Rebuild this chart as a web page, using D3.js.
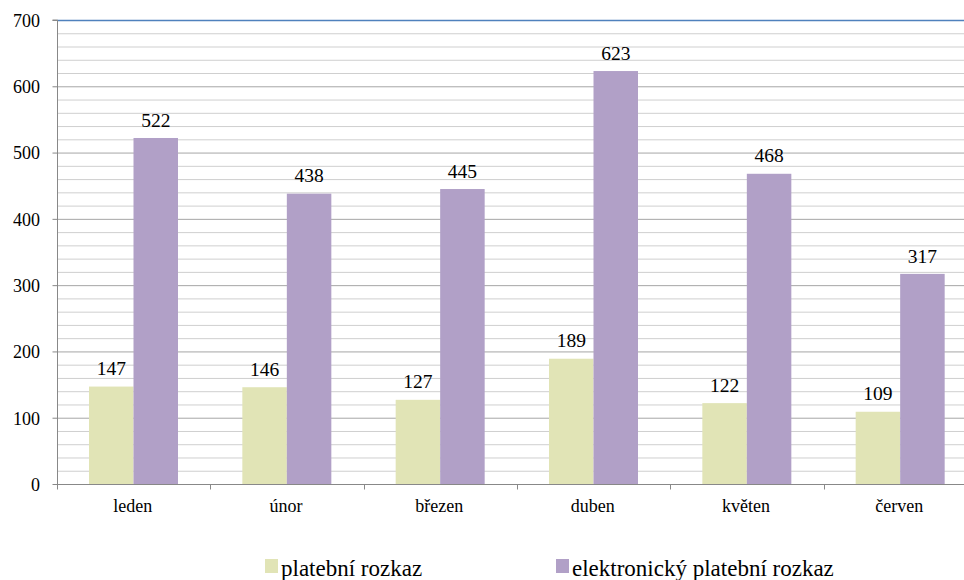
<!DOCTYPE html>
<html><head><meta charset="utf-8">
<script src="https://cdn.jsdelivr.net/npm/d3@7"></script>
<style>
body{margin:0;background:#fff}
#wrap{position:relative;width:964px;height:580px;overflow:hidden}
#c{position:absolute;left:0;top:0;display:block}
.lbl{position:absolute;white-space:nowrap;line-height:1;color:#000}
</style>
</head><body><div id="wrap"><svg id="c" width="964" height="580"></svg></div>
<script>
const categories = ["leden","únor","březen","duben","květen","červen"];
const seriesNames = ["platební rozkaz","elektronický platební rozkaz"];
const platebni = [147,146,127,189,122,109];
const elektronicky = [522,438,445,623,468,317];
const yTicks = [0,100,200,300,400,500,600,700];
const colors = ["#e1e4b6","#b1a0c7"];

const wrap = d3.select("#wrap");
const svg = d3.select("#c");
const m = {l:57, t:20, b:96};
const W = 964, H = 580;
const x = d3.scaleBand().domain(categories).range([m.l, 977]);
const y = d3.scaleLinear().domain([0,700]).range([H-m.b, m.t]);

// HTML text label helper (baseline positioned)
function label(text, px, baseline, size, anchor){
  const d = wrap.append("div").attr("class","lbl").text(text)
    .style("top", (baseline - 0.8375*size)+"px");
  const s = d.node().style;
  s.setProperty("font", size+"px 'Liberation Serif'", "important");
  s.setProperty("font-family", "'Liberation Serif', 'Times New Roman', serif", "important");
  s.setProperty("line-height", "1", "important");
  if(anchor==="middle") d.style("left", px+"px").style("transform","translateX(-50%)");
  else if(anchor==="end") d.style("right", (W-px)+"px");
  else d.style("left", px+"px");
  return d;
}

// gridlines
const minor = d3.range(0,701,20);
svg.append("g").selectAll("line").data(minor).join("line")
  .attr("x1", m.l).attr("x2", W).attr("y1", d=>y(d)+0.5).attr("y2", d=>y(d)+0.5)
  .attr("stroke", d=> d===700 ? "#4f81bd" : (d%100===0 ? "#a6a6a6" : "#cfcfcf"))
  .attr("stroke-width", d=> d===700 ? 1.5 : 1);

// bars
const series = [platebni, elektronicky];
const bw = 44.5, off = 32;
series.forEach((vals, si) => {
  svg.append("g").selectAll("rect").data(vals).join("rect")
    .attr("x", (d,i)=> x(categories[i]) + off + si*bw)
    .attr("width", bw)
    .attr("y", d=>y(d))
    .attr("height", d=>y(0)-y(d))
    .attr("fill", colors[si]);
  vals.forEach((v,i)=>{
    label(String(v), x(categories[i]) + off + si*bw + bw/2, y(v)-11, 19.5, "middle");
  });
});

// axes
const yAxis = d3.axisLeft(y).tickValues(yTicks).tickSize(5).tickFormat("");
const gy = svg.append("g").attr("transform",`translate(${m.l+0.5},0)`).call(yAxis);
gy.select(".domain").attr("stroke","#888").attr("d",`M-5,${y(700)}H0V${y(0)}`);
gy.selectAll(".tick line").attr("stroke","#888");
yTicks.forEach(t => label(String(t), 40, y(t)+7, 18, "end"));

const gx = svg.append("g").attr("transform",`translate(0,${y(0)+0.5})`);
gx.append("line").attr("x1",m.l).attr("x2",W).attr("stroke","#888");
gx.selectAll("line.t").data(categories.map(c=>x(c))).join("line").attr("class","t")
  .attr("x1",d=>Math.round(d)+0.5).attr("x2",d=>Math.round(d)+0.5).attr("y1",0).attr("y2",5).attr("stroke","#888");
categories.forEach(c => label(c, x(c)+x.bandwidth()/2 - 1, 512, 18, "middle"));

// legend
const legX = [265, 556];
seriesNames.forEach((n,i)=>{
  svg.append("rect").attr("x",legX[i]).attr("y",559).attr("width",13).attr("height",14).attr("fill",colors[i]);
  label(n, legX[i]+16, 576, 23, "start");
});
</script></body></html>
